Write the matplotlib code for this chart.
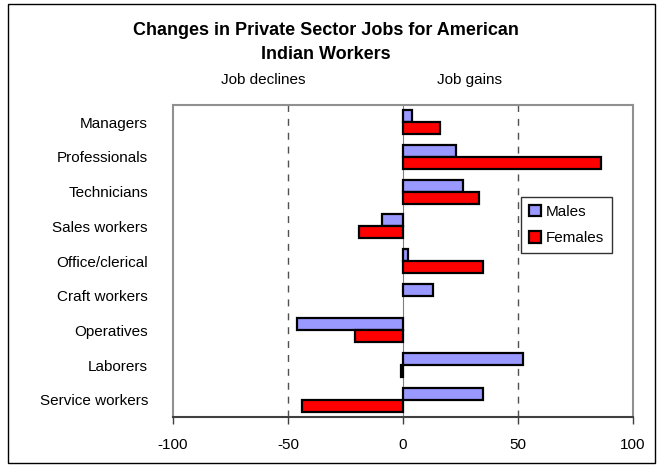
import matplotlib
matplotlib.use("Agg")
import matplotlib.pyplot as plt
from matplotlib.patches import Rectangle
import numpy as np

plt.rcParams['font.family'] = ['Liberation Sans', 'DejaVu Sans']

# data
categories = ['Managers', 'Professionals', 'Technicians', 'Sales workers',
              'Office/clerical', 'Craft workers', 'Operatives', 'Laborers',
              'Service workers']
males = [4, 23, 26, -9, 2, 13, -46, 52, 35]
females = [16, 86, 33, -19, 35, 0, -21, -1, -44]
xticks = [-100, -50, 0, 50, 100]

male_color = '#9999FF'
female_color = '#FF0000'

fig = plt.figure(figsize=(6.59, 4.65), dpi=100)
ax = fig.add_axes([0.2625, 0.1032, 0.698, 0.671])

y = np.arange(len(categories))
h = 0.35
ax.axvline(0, color='#808080', lw=0.8, zorder=1)
for gx in [-50, 50]:
    ax.axvline(gx, color='#505050', lw=1.0, ls=(0, (5, 5)), zorder=1)

# zero-length bars get no outline (Excel draws nothing there)
m_lw = [1.6 if v != 0 else 0 for v in males]
f_lw = [1.6 if v != 0 else 0 for v in females]
ax.barh(y - h / 2, males, height=h, color=male_color, edgecolor='black',
        linewidth=m_lw, label='Males', zorder=3)
ax.barh(y + h / 2, females, height=h, color=female_color, edgecolor='black',
        linewidth=f_lw, label='Females', zorder=3)

ax.set_xlim(-100, 100)
ax.set_ylim(len(categories) - 0.5, -0.5)
ax.set_xticks(xticks)
ax.set_xticklabels([str(v) for v in xticks], fontsize=11)
ax.set_yticks(y)
ax.set_yticklabels(categories, fontsize=11)
ax.tick_params(axis='y', length=0, pad=18)
ax.tick_params(axis='x', length=5, width=1, direction='out', color='#404040', pad=10)

for s in ['top', 'right', 'left']:
    ax.spines[s].set_color('#909090')
    ax.spines[s].set_linewidth(1.5)
ax.spines['bottom'].set_color('#404040')
ax.spines['bottom'].set_linewidth(1.5)

leg = ax.legend(loc='upper left', bbox_to_anchor=(0.757, 0.705), fontsize=11,
                frameon=True, fancybox=False, edgecolor='black',
                handlelength=0.8, handleheight=0.8, handletextpad=0.3,
                borderpad=0.5, labelspacing=0.8, borderaxespad=0)
leg.get_frame().set_linewidth(1.0)
for p in leg.get_patches():
    p.set_linewidth(1.6)

# two-line title, spaced like the original
fig.text(0.495, 0.935, 'Changes in Private Sector Jobs for American',
         ha='center', va='center', fontsize=13, fontweight='bold')
fig.text(0.495, 0.882, 'Indian Workers',
         ha='center', va='center', fontsize=13, fontweight='bold')
fig.text(0.40, 0.828, 'Job declines', ha='center', va='center', fontsize=11)
fig.text(0.712, 0.828, 'Job gains', ha='center', va='center', fontsize=11)

# outer chart border
fig.patches.append(Rectangle((8 / 659, 2 / 465), 647 / 659, 459 / 465,
                             transform=fig.transFigure, fill=False,
                             edgecolor='black', linewidth=1.0))

fig.savefig('out.png', dpi=100)
